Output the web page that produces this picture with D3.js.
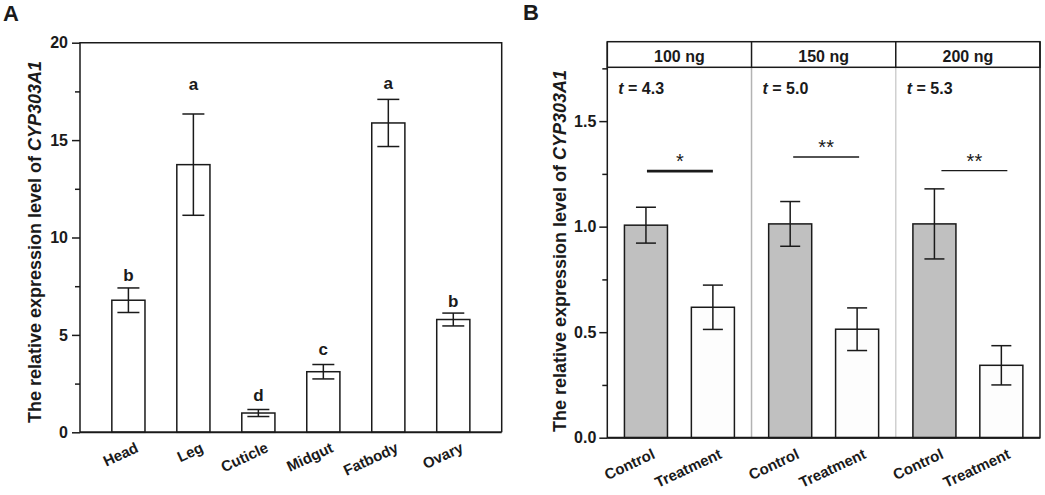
<!DOCTYPE html>
<html><head><meta charset="utf-8">
<script src="https://cdn.jsdelivr.net/npm/d3@7/dist/d3.min.js"></script>
<style>
body{margin:0;background:#fff;}
svg{display:block;font-family:Arial,"Liberation Sans",sans-serif;}
</style></head>
<body>
<svg id="chart" width="1045" height="495"></svg>
<script>
// ---------- Panel A data ----------
const tissues = ["Head","Leg","Cuticle","Midgut","Fatbody","Ovary"];
const tissueMeans = [6.78, 13.74, 0.99, 3.11, 15.88, 5.79];
const tissueErrors = [0.63, 2.6, 0.18, 0.37, 1.21, 0.33];
const tissueLetters = ["b","a","d","c","a","b"];
const letterLevels = [7.77, 17.59, 1.62, 3.96, 17.6, 6.44];
const ticksA = [0,5,10,15,20];
const minorTicksA = [2.5,7.5,12.5,17.5];

// ---------- Panel B data ----------
const doses = ["100 ng","150 ng","200 ng"];
const groups = ["Control","Treatment"];
const controlMeans = [1.007, 1.013, 1.013];
const controlErrors = [0.085, 0.106, 0.166];
const treatmentMeans = [0.618, 0.514, 0.343];
const treatmentErrors = [0.105, 0.101, 0.093];
const tValues = ["4.3","5.0","5.3"];
const sigMarks = ["*","**","**"];
const sigLevels = [1.263, 1.33, 1.265];
const ticksB = [0, 0.5, 1.0, 1.5];
const minorTicksB = [0.25, 0.75, 1.25, 1.75];

const svg = d3.select("#chart");
const ink = "#1a1a1a";

function yTitle(g, x, y){
  const t = g.append("text")
    .attr("transform", `translate(${x},${y}) rotate(-90)`)
    .attr("text-anchor","middle")
    .attr("font-size", 18).attr("font-weight","bold").attr("fill", ink);
  t.append("tspan").text("The relative expression level of ");
  t.append("tspan").attr("font-style","italic").text("CYP303A1");
}

function styleAxis(g){
  g.select(".domain").remove();
  g.selectAll(".tick line").attr("stroke", ink).attr("stroke-width", 1.5);
  g.selectAll(".tick text").attr("font-size", 16).attr("font-weight","bold")
    .attr("fill", ink).attr("font-family","Arial, 'Liberation Sans', sans-serif");
}

// ================= PANEL A =================
{
  const L = 80, R = 501.7, T = 42.7, B = 432.3;
  const x = d3.scaleBand().domain(tissues).range([L, R]).padding(0.49);
  const y = d3.scaleLinear().domain([0, 20]).range([B, T]);
  const g = svg.append("g");

  svg.append("text").attr("x", 3).attr("y", 21).text("A")
    .attr("font-size", 22).attr("font-weight","bold").attr("fill", ink);

  const gm = g.append("g").attr("transform",`translate(${L},0)`)
    .call(d3.axisLeft(y).tickValues(minorTicksA).tickSize(5).tickFormat(""));
  styleAxis(gm);
  const ga = g.append("g").attr("transform",`translate(${L},0)`)
    .call(d3.axisLeft(y).tickValues(ticksA).tickSize(8).tickPadding(4).tickFormat(d3.format("d")));
  styleAxis(ga);

  const data = tissues.map((t,i)=>({t, m:tissueMeans[i], e:tissueErrors[i], l:tissueLetters[i], ly:letterLevels[i]}));
  g.selectAll("rect.bar").data(data).join("rect")
    .attr("x", d=>x(d.t)).attr("width", x.bandwidth())
    .attr("y", d=>y(d.m)).attr("height", d=>y(0)-y(d.m))
    .attr("fill","#fff").attr("stroke", ink).attr("stroke-width",1.5);

  const cap = 11;
  const cxA = d => x(d.t)+x.bandwidth()/2;
  const eb = g.selectAll("g.eb").data(data).join("g").attr("stroke", ink).attr("stroke-width",1.5);
  eb.append("line").attr("x1", cxA).attr("x2", cxA).attr("y1", d=>y(d.m+d.e)).attr("y2", d=>y(d.m-d.e));
  eb.append("line").attr("x1", d=>cxA(d)-cap).attr("x2", d=>cxA(d)+cap).attr("y1", d=>y(d.m+d.e)).attr("y2", d=>y(d.m+d.e));
  eb.append("line").attr("x1", d=>cxA(d)-cap).attr("x2", d=>cxA(d)+cap).attr("y1", d=>y(d.m-d.e)).attr("y2", d=>y(d.m-d.e));

  g.selectAll("text.let").data(data).join("text")
    .attr("x", cxA).attr("y", d=>y(d.ly))
    .attr("text-anchor","middle").attr("font-size",17).attr("font-weight","bold")
    .attr("fill", ink).text(d=>d.l);

  g.append("path").attr("d", `M${L},${B}V${T}H${R}V${B}`).attr("fill","none")
    .attr("stroke", ink).attr("stroke-width",1.5);
  g.append("line").attr("x1",L).attr("x2",R).attr("y1",B).attr("y2",B)
    .attr("stroke", ink).attr("stroke-width",2);

  g.selectAll("text.xl").data(tissues).join("text")
    .attr("transform", d=>`translate(${x(d)+x.bandwidth()/2+11},${B+19}) rotate(-25)`)
    .attr("text-anchor","end").attr("font-size",15).attr("font-weight","bold")
    .attr("fill", ink).text(d=>d);

  yTitle(g, 40.5, 242);
}

// ================= PANEL B =================
{
  const L = 607.3, R = 1040, HT = 41.7, T = 67.3, B = 437.7;
  const px = d3.scaleBand().domain(doses).range([L, R]).padding(0);
  const gx = d3.scaleBand().domain(groups).range([0, px.bandwidth()])
    .paddingInner(0.357).paddingOuter(0.256);
  const y = d3.scaleLinear().domain([0, 1.755]).range([B, T]);
  const g = svg.append("g");

  svg.append("text").attr("x", 523).attr("y", 20).text("B")
    .attr("font-size", 22).attr("font-weight","bold").attr("fill", ink);

  const gm = g.append("g").attr("transform",`translate(${L},0)`)
    .call(d3.axisLeft(y).tickValues(minorTicksB).tickSize(5).tickFormat(""));
  styleAxis(gm);
  const ga = g.append("g").attr("transform",`translate(${L},0)`)
    .call(d3.axisLeft(y).tickValues(ticksB).tickSize(8).tickPadding(3).tickFormat(d3.format(".1f")));
  styleAxis(ga);

  const divColors = ["#b3b3b3","#d0d0d0"];
  doses.slice(1).forEach((d,i)=>{
    g.append("line").attr("x1", px(d)).attr("x2", px(d)).attr("y1", T).attr("y2", B)
      .attr("stroke", divColors[i]).attr("stroke-width",1.5);
  });

  const rows = [];
  doses.forEach((d,i)=>{
    rows.push({dose:d, grp:"Control", m:controlMeans[i], e:controlErrors[i], fill:"#c0c0c0"});
    rows.push({dose:d, grp:"Treatment", m:treatmentMeans[i], e:treatmentErrors[i], fill:"#fdfdfd"});
  });
  const cx = d => px(d.dose) + gx(d.grp) + gx.bandwidth()/2;

  g.selectAll("rect.bar").data(rows).join("rect")
    .attr("x", d=>px(d.dose)+gx(d.grp)).attr("width", gx.bandwidth())
    .attr("y", d=>y(d.m)).attr("height", d=>y(0)-y(d.m))
    .attr("fill", d=>d.fill).attr("stroke", ink).attr("stroke-width",1.5);

  const cap = 10;
  const eb = g.selectAll("g.eb").data(rows).join("g").attr("stroke", ink).attr("stroke-width",1.5);
  eb.append("line").attr("x1", cx).attr("x2", cx).attr("y1", d=>y(d.m+d.e)).attr("y2", d=>y(d.m-d.e));
  eb.append("line").attr("x1", d=>cx(d)-cap).attr("x2", d=>cx(d)+cap).attr("y1", d=>y(d.m+d.e)).attr("y2", d=>y(d.m+d.e));
  eb.append("line").attr("x1", d=>cx(d)-cap).attr("x2", d=>cx(d)+cap).attr("y1", d=>y(d.m-d.e)).attr("y2", d=>y(d.m-d.e));

  const sigWidths = [2.8, 1.3, 1.3];
  const sigShift = [1, 3, 7];
  doses.forEach((d,i)=>{
    const x1 = px(d)+gx("Control")+gx.bandwidth()/2+sigShift[i];
    const x2 = px(d)+gx("Treatment")+gx.bandwidth()/2+sigShift[i]-1;
    g.append("line").attr("x1",x1).attr("x2",x2).attr("y1",y(sigLevels[i])).attr("y2",y(sigLevels[i]))
      .attr("stroke", ink).attr("stroke-width", sigWidths[i]);
    g.append("text").attr("x",(x1+x2)/2).attr("y", y(sigLevels[i])-3)
      .attr("text-anchor","middle").attr("font-size",20).attr("fill", ink).text(sigMarks[i]);
    const t = g.append("text").attr("x", px(d)+11).attr("y", 94)
      .attr("font-size",16).attr("font-weight","bold").attr("fill", ink);
    t.append("tspan").attr("font-style","italic").text("t");
    t.append("tspan").text(" = " + tValues[i]);
    g.append("text").attr("x", px(d)+px.bandwidth()/2).attr("y", 61.5)
      .attr("text-anchor","middle").attr("font-size",16).attr("font-weight","bold")
      .attr("fill", ink).text(d);
  });

  g.append("rect").attr("x",L).attr("y",HT).attr("width",R-L).attr("height",T-HT)
    .attr("fill","none").attr("stroke", ink).attr("stroke-width",1.5);
  doses.slice(1).forEach(d=>{
    g.append("line").attr("x1",px(d)).attr("x2",px(d)).attr("y1",HT).attr("y2",T)
      .attr("stroke", ink).attr("stroke-width",1.5);
  });
  g.append("path").attr("d", `M${L},${HT}V${B}H${R}V${HT}`).attr("fill","none")
    .attr("stroke", ink).attr("stroke-width",1.5);
  g.append("line").attr("x1",L).attr("x2",R).attr("y1",B).attr("y2",B)
    .attr("stroke", ink).attr("stroke-width",2);

  g.selectAll("text.xl").data(rows).join("text")
    .attr("transform", d=>`translate(${cx(d)+10},${B+20}) rotate(-25)`)
    .attr("text-anchor","end").attr("font-size",15).attr("font-weight","bold")
    .attr("fill", ink).text(d=>d.grp);

  yTitle(g, 565.5, 251);
}
</script>
</body></html>
